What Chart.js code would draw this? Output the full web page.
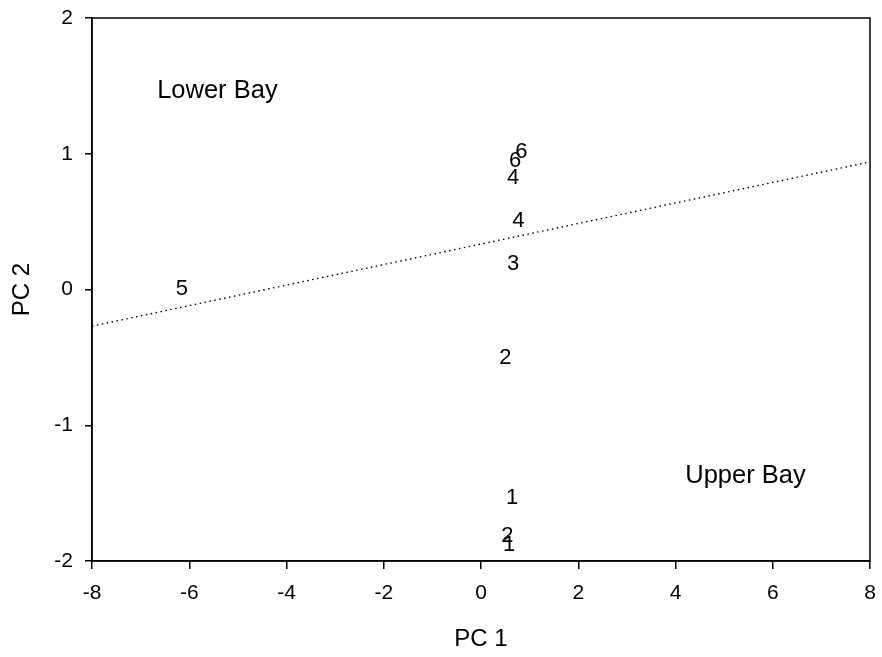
<!DOCTYPE html>
<html>
<head>
<meta charset="utf-8">
<script src="https://cdn.jsdelivr.net/npm/chart.js@4/dist/chart.umd.min.js"></script>
<style>
  html, body { margin: 0; padding: 0; background: #fff; }
  #wrap { width: 882px; height: 657px; }
</style>
</head>
<body>
<div id="wrap"><canvas id="c" width="882" height="657"></canvas></div>
<script>
// Data
const pointLabels = ['6', '6', '4', '4', '3', '5', '2', '1', '2', '1'];
const pc1Values   = [0.83, 0.70, 0.66, 0.77, 0.66, -6.15, 0.50, 0.64, 0.54, 0.58];
const pc2Values   = [1.03, 0.96, 0.84, 0.52, 0.20, 0.02, -0.49, -1.52, -1.80, -1.87];
const lineX = [-8, 8];
const lineY = [-0.27, 0.94];
const xTicks = [-8, -6, -4, -2, 0, 2, 4, 6, 8];
const yTicks = [-2, -1, 0, 1, 2];
const regionNames = ['Lower Bay', 'Upper Bay'];
const regionX = [-6.66, 4.20];
const regionY = [1.48, -1.36];

const FONT = '"Liberation Sans", Arial, sans-serif';

const textPlugin = {
  id: 'textPlugin',
  afterDatasetsDraw(chart) {
    const ctx = chart.ctx;
    const xs = chart.scales.x, ys = chart.scales.y;
    const dy = 2; // glyph optical centring
    ctx.save();
    ctx.fillStyle = '#000';
    ctx.font = '22px ' + FONT;
    ctx.textAlign = 'center';
    ctx.textBaseline = 'middle';
    for (let i = 0; i < pointLabels.length; i++) {
      ctx.fillText(pointLabels[i], xs.getPixelForValue(pc1Values[i]), ys.getPixelForValue(pc2Values[i]) + dy);
    }
    ctx.font = '25.5px ' + FONT;
    ctx.textAlign = 'left';
    for (let i = 0; i < regionNames.length; i++) {
      ctx.fillText(regionNames[i], xs.getPixelForValue(regionX[i]), ys.getPixelForValue(regionY[i]) + dy);
    }
    const a = chart.chartArea;
    ctx.strokeStyle = '#000';
    ctx.lineWidth = 1.5;
    ctx.strokeRect(a.left, a.top, a.right - a.left, a.bottom - a.top);
    ctx.restore();
  }
};

function zeroPad(s) { s.paddingLeft = 0; s.paddingRight = 0; s.paddingTop = 0; s.paddingBottom = 0; }

new Chart(document.getElementById('c'), {
  type: 'scatter',
  data: {
    datasets: [
      {
        type: 'line',
        data: lineX.map((x, i) => ({ x: x, y: lineY[i] })),
        borderColor: '#000',
        borderWidth: 1.4,
        borderDash: [1.5, 3.5],
        pointRadius: 0,
        fill: false
      },
      {
        data: pc1Values.map((x, i) => ({ x: x, y: pc2Values[i] })),
        pointRadius: 0,
        pointHoverRadius: 0,
        showLine: false
      }
    ]
  },
  options: {
    responsive: false,
    animation: false,
    layout: { padding: { left: 0, right: 12, top: 18, bottom: 0 } },
    plugins: { legend: { display: false }, tooltip: { enabled: false } },
    scales: {
      x: {
        type: 'linear',
        min: -8, max: 8,
        afterBuildTicks: (s) => { s.ticks = xTicks.map(v => ({ value: v })); },
        afterFit: (s) => { s.height = 96; zeroPad(s); },
        grid: { display: true, drawOnChartArea: false, drawTicks: true, tickLength: 8, color: '#000', lineWidth: 1.5 },
        border: { display: true, color: '#000', width: 1.5 },
        ticks: { color: '#000', font: { family: FONT, size: 21 }, padding: 12, maxRotation: 0 },
        title: { display: true, text: 'PC 1', color: '#000', font: { family: FONT, size: 24 }, padding: { top: 14, bottom: 3 } }
      },
      y: {
        type: 'linear',
        min: -2, max: 2,
        afterBuildTicks: (s) => { s.ticks = yTicks.map(v => ({ value: v })); },
        afterFit: (s) => { s.width = 92; zeroPad(s); },
        grid: { display: true, drawOnChartArea: false, drawTicks: true, tickLength: 7, color: '#000', lineWidth: 1.5 },
        border: { display: true, color: '#000', width: 1.5 },
        ticks: { color: '#000', font: { family: FONT, size: 21 }, padding: 12 },
        title: { display: true, text: 'PC 2', color: '#000', font: { family: FONT, size: 24 }, padding: { top: 8, bottom: 10 } }
      }
    }
  },
  plugins: [textPlugin]
});
</script>
</body>
</html>
